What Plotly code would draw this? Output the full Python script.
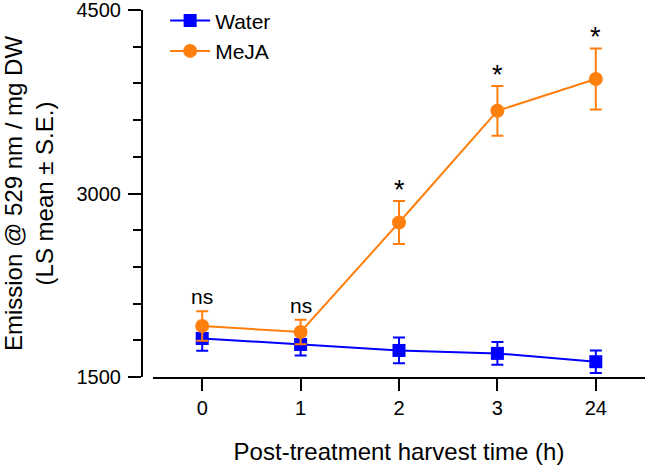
import plotly.graph_objects as go

times = ["0", "1", "2", "3", "24"]
water_mean = [1815, 1766, 1717, 1693, 1625]
water_se = [100, 90, 105, 93, 92]
meja_mean = [1917, 1868, 2763, 3676, 3936]
meja_se = [120, 100, 176, 203, 250]
sig_labels = ["ns", "ns", "*", "*", "*"]

BLUE = "#0000ff"
ORANGE = "#ff7f0e"
FONT = "Liberation Sans, Arial, sans-serif"

fig = go.Figure()
fig.add_trace(go.Scatter(
    x=times, y=water_mean, name="Water", mode="lines+markers",
    line=dict(color=BLUE, width=2),
    marker=dict(symbol="square", size=13, color=BLUE),
    error_y=dict(type="data", array=water_se, color=BLUE, thickness=2, width=6),
))
fig.add_trace(go.Scatter(
    x=times, y=meja_mean, name="MeJA", mode="lines+markers",
    line=dict(color=ORANGE, width=2),
    marker=dict(symbol="circle", size=14, color=ORANGE),
    error_y=dict(type="data", array=meja_se, color=ORANGE, thickness=2, width=6),
))

for i, (m, s, lab) in enumerate(zip(meja_mean, meja_se, sig_labels)):
    fig.add_annotation(x=i, y=m + s, text=lab, showarrow=False,
                       yanchor="bottom", yshift=1 if lab == "ns" else -6,
                       font=dict(family=FONT, size=21 if lab == "ns" else 27, color="black"))

fig.update_layout(
    width=645, height=466,
    margin=dict(l=142, r=0, t=8, b=89),
    plot_bgcolor="white", paper_bgcolor="white",
    font=dict(family=FONT, size=20, color="black"),
    showlegend=True,
    legend=dict(x=0.046, y=1.026, xanchor="left", yanchor="top",
                font=dict(family=FONT, size=21), bgcolor="rgba(0,0,0,0)",
                tracegroupgap=3, itemwidth=40),
    xaxis=dict(
        type="category", range=[-0.5, 4.5], domain=[0.0219, 1],
        showline=True, linecolor="black", linewidth=2,
        ticks="outside", ticklen=12, tickwidth=2, tickcolor="black",
        showgrid=False, zeroline=False,
        title=dict(text="Post-treatment harvest time (h)", standoff=25,
                   font=dict(family=FONT, size=24)),
        tickfont=dict(family=FONT, size=20),
    ),
    yaxis=dict(
        range=[1500, 4500], anchor="free", position=0,
        tickvals=[1500, 3000, 4500], ticklabeloverflow="allow",
        ticklabelstandoff=3,
        showline=True, linecolor="black", linewidth=2,
        ticks="outside", ticklen=13, tickwidth=2, tickcolor="black",
        minor=dict(dtick=300, ticks="outside", ticklen=8, tickwidth=2, tickcolor="black"),
        showgrid=False, zeroline=False,
        title=dict(text="Emission @ 529 nm / mg DW<br>(LS mean ± S.E.)", standoff=25,
                   font=dict(family=FONT, size=24)),
        tickfont=dict(family=FONT, size=20),
    ),
)

fig.write_html("out.html", post_script="document.body.style.margin='0';",
               config={"displayModeBar": False})
